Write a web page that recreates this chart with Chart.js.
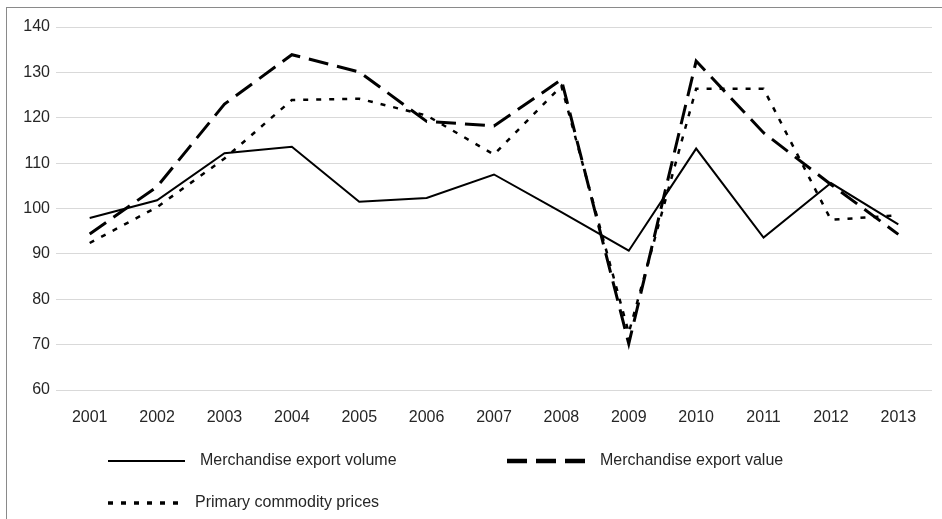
<!DOCTYPE html>
<html>
<head>
<meta charset="utf-8">
<script src="https://cdn.jsdelivr.net/npm/chart.js@4/dist/chart.umd.min.js"></script>
<style>
	html, body { margin: 0; padding: 0; background: #fff; }
	#wrap { position: relative; width: 942px; height: 519px; overflow: hidden; }
	#frame { position: absolute; left: 6px; top: 7px; width: 940px; height: 520px; border-left: 1px solid #8a8a8a; border-top: 1px solid #8a8a8a; }
	canvas { position: absolute; left: 0; top: 0; }
</style>
</head>
<body>
<div id="wrap">
	<div id="frame"></div>
	<canvas id="chart" width="942" height="519"></canvas>
</div>
<script>
const years = ['2001', '2002', '2003', '2004', '2005', '2006', '2007', '2008', '2009', '2010', '2011', '2012', '2013'];
const exportVolume = [97.9, 101.8, 112.2, 113.6, 101.5, 102.3, 107.5, 99.2, 90.7, 113.2, 93.6, 105.6, 96.5];
const exportValue = [94.4, 104.8, 123, 133.9, 130.1, 119.2, 118.2, 128.4, 70.2, 132.5, 116.7, 105.3, 94.3];
const commodityPrices = [92.4, 100.3, 111, 123.9, 124.2, 120.5, 111.9, 127, 72.6, 126.4, 126.4, 97.5, 98.5];
const yTicks = [60, 70, 80, 90, 100, 110, 120, 130, 140];

const fontFamily = '"Liberation Sans", Arial, sans-serif';
const textColor = '#262626';

// legend is drawn by hand: two items on the first row, one on the second
const legendSpots = [
	{x: 108, y: 461, w: 77, tx: 200},
	{x: 507, y: 461, w: 78, tx: 600},
	{x: 108, y: 503, w: 72, tx: 195}
];

const handLegend = {
	id: 'handLegend',
	afterDraw(chart){
		let ctx = chart.ctx;
		chart.data.datasets.forEach((ds, i) => {
			let spot = legendSpots[i];
			ctx.save();
			ctx.strokeStyle = ds.borderColor;
			ctx.lineWidth = ds.legendWidth || ds.borderWidth;
			ctx.setLineDash(ds.borderDash || []);
			ctx.lineCap = 'butt';
			ctx.beginPath();
			ctx.moveTo(spot.x, spot.y);
			ctx.lineTo(spot.x + spot.w, spot.y);
			ctx.stroke();
			ctx.setLineDash([]);
			ctx.fillStyle = textColor;
			ctx.font = '16px ' + fontFamily;
			ctx.textBaseline = 'middle';
			ctx.textAlign = 'left';
			ctx.fillText(ds.label, spot.tx, spot.y);
			ctx.restore();
		});
	}
};

new Chart(document.getElementById('chart'), {
	type: 'line',
	data: {
		labels: years,
		datasets: [{
			label: 'Merchandise export volume',
			data: exportVolume,
			borderColor: '#000',
			borderWidth: 2,
			pointRadius: 0,
			tension: 0
		}, {
			label: 'Merchandise export value',
			data: exportValue,
			borderColor: '#000',
			borderWidth: 3,
			legendWidth: 4.5,
			borderDash: [20, 9],
			pointRadius: 0,
			tension: 0
		}, {
			label: 'Primary commodity prices',
			data: commodityPrices,
			borderColor: '#000',
			borderWidth: 2.5,
			legendWidth: 3.5,
			borderDash: [5, 8],
			pointRadius: 0,
			tension: 0
		}]
	},
	options: {
		responsive: false,
		animation: false,
		layout: {padding: {top: 27, right: 10, bottom: 0, left: 0}},
		plugins: {
			legend: {display: false},
			tooltip: {enabled: false}
		},
		scales: {
			x: {
				offset: true,
				grid: {display: false, drawTicks: false},
				border: {display: false},
				ticks: {
					color: textColor,
					font: {family: fontFamily, size: 16},
					padding: 18,
					maxRotation: 0
				},
				afterFit(scale){ scale.height = 129; }
			},
			y: {
				min: 60,
				max: 140,
				grid: {color: '#d9d9d9', lineWidth: 1, drawTicks: false},
				border: {display: false},
				afterBuildTicks(scale){ scale.ticks = yTicks.map(v => ({value: v})); },
				ticks: {
					color: textColor,
					font: {family: fontFamily, size: 16},
					padding: 6
				},
				afterFit(scale){ scale.width = 56; }
			}
		}
	},
	plugins: [handLegend]
});
</script>
</body>
</html>
